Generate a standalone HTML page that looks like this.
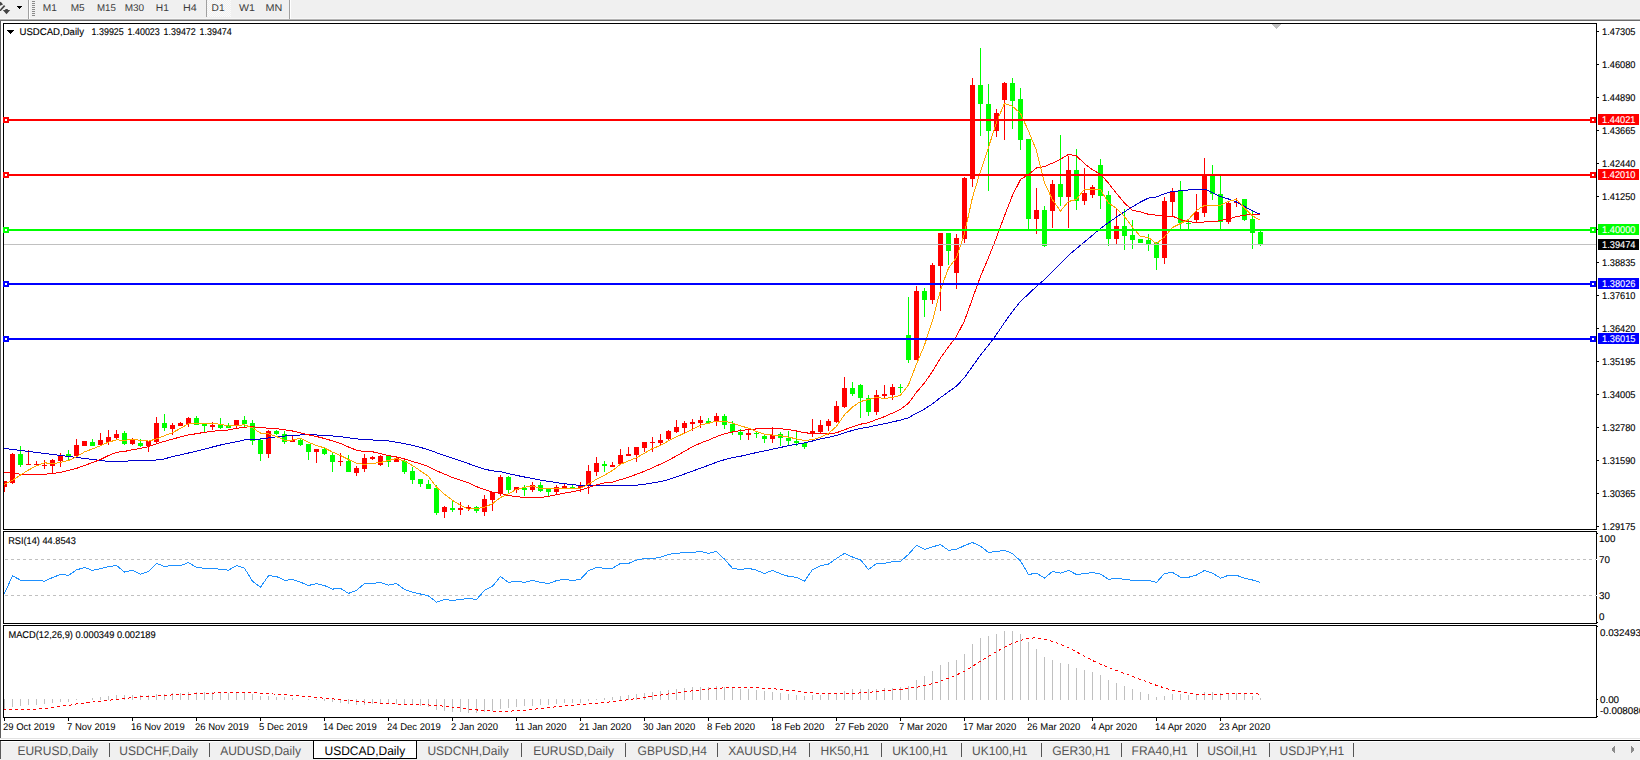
<!DOCTYPE html>
<html><head><meta charset="utf-8"><title>USDCAD,Daily</title>
<style>html,body{margin:0;padding:0;background:#fff;overflow:hidden}svg{display:block}text{white-space:pre}</style>
</head><body>
<svg width="1640" height="760" viewBox="0 0 1640 760" shape-rendering="crispEdges" text-rendering="geometricPrecision" font-family="'Liberation Sans', Arial, sans-serif"><rect x="0" y="0" width="1640" height="760" fill="#ffffff"/>
<rect x="0" y="0" width="1640" height="19" fill="#f0f0f0"/>
<rect x="0" y="18" width="1640" height="1" fill="#f7f7f7"/>
<rect x="0" y="19" width="1640" height="1" fill="#b4b4b4"/>
<rect x="0" y="20" width="1640" height="1" fill="#6a6a6a"/>
<g fill="#444444" shape-rendering="auto">
<path d="M0 1.8 L1.2 2.2 L3 4.5 L0 5.8 Z"/>
<path d="M4 5 L5.3 6.2 L0.8 11 L0 11 L0 9.6 Z"/>
<path d="M5.3 9 L7.8 9 L7.8 10 L10.2 10 L6.5 14.2 L2.8 10 L5.3 10 Z"/>
</g>
<path d="M17 6 L22 6 L19.5 9 Z" fill="#000"/>
<rect x="28" y="0" width="1" height="19" fill="#a0a0a0"/>
<rect x="29" y="0" width="1" height="19" fill="#ffffff"/>
<rect x="32" y="1" width="3" height="1" fill="#8a8a8a"/>
<rect x="32" y="3" width="3" height="1" fill="#8a8a8a"/>
<rect x="32" y="5" width="3" height="1" fill="#8a8a8a"/>
<rect x="32" y="7" width="3" height="1" fill="#8a8a8a"/>
<rect x="32" y="9" width="3" height="1" fill="#8a8a8a"/>
<rect x="32" y="11" width="3" height="1" fill="#8a8a8a"/>
<rect x="32" y="13" width="3" height="1" fill="#8a8a8a"/>
<rect x="32" y="15" width="3" height="1" fill="#8a8a8a"/>
<defs><pattern id="chk" width="2" height="2" patternUnits="userSpaceOnUse"><rect width="2" height="2" fill="#f0f0f0"/><rect width="1" height="1" fill="#fbfbfb"/><rect x="1" y="1" width="1" height="1" fill="#fbfbfb"/></pattern></defs>
<rect x="207" y="0" width="24" height="17" fill="url(#chk)"/>
<rect x="206" y="0" width="1" height="17" fill="#a0a0a0"/>
<rect x="289" y="0" width="1" height="19" fill="#a0a0a0"/>
<rect x="290" y="0" width="1" height="19" fill="#ffffff"/>
<text x="42.8" y="11" font-size="9.8" fill="#3c3c3c" textLength="14.1" lengthAdjust="spacingAndGlyphs">M1</text>
<text x="70.7" y="11" font-size="9.8" fill="#3c3c3c" textLength="14.0" lengthAdjust="spacingAndGlyphs">M5</text>
<text x="96.9" y="11" font-size="9.8" fill="#3c3c3c" textLength="18.9" lengthAdjust="spacingAndGlyphs">M15</text>
<text x="124.7" y="11" font-size="9.8" fill="#3c3c3c" textLength="19.5" lengthAdjust="spacingAndGlyphs">M30</text>
<text x="155.8" y="11" font-size="9.8" fill="#3c3c3c" textLength="13.1" lengthAdjust="spacingAndGlyphs">H1</text>
<text x="182.9" y="11" font-size="9.8" fill="#3c3c3c" textLength="13.799999999999999" lengthAdjust="spacingAndGlyphs">H4</text>
<text x="211.6" y="11" font-size="9.8" fill="#3c3c3c" textLength="13.0" lengthAdjust="spacingAndGlyphs">D1</text>
<text x="239.0" y="11" font-size="9.8" fill="#3c3c3c" textLength="15.899999999999999" lengthAdjust="spacingAndGlyphs">W1</text>
<text x="265.5" y="11" font-size="9.8" fill="#3c3c3c" textLength="16.8" lengthAdjust="spacingAndGlyphs">MN</text>
<rect x="0" y="21" width="1" height="717" fill="#5d5d5d"/>
<rect x="3" y="23" width="1594" height="1" fill="#000"/>
<rect x="3" y="529" width="1594" height="1" fill="#000"/>
<rect x="3" y="23" width="1" height="507" fill="#000"/>
<rect x="1596" y="23" width="1" height="507" fill="#000"/>
<rect x="3" y="531" width="1594" height="1" fill="#000"/>
<rect x="3" y="623" width="1594" height="1" fill="#000"/>
<rect x="3" y="531" width="1" height="93" fill="#000"/>
<rect x="1596" y="531" width="1" height="93" fill="#000"/>
<rect x="3" y="625" width="1594" height="1" fill="#000"/>
<rect x="3" y="717" width="1594" height="1" fill="#000"/>
<rect x="3" y="625" width="1" height="93" fill="#000"/>
<rect x="1596" y="625" width="1" height="93" fill="#000"/>
<clipPath id="cm"><rect x="4" y="24" width="1592" height="505"/></clipPath>
<clipPath id="cr"><rect x="4" y="532" width="1592" height="91"/></clipPath>
<clipPath id="cmacd"><rect x="4" y="626" width="1592" height="91"/></clipPath>
<g clip-path="url(#cm)">
<rect x="4" y="481" width="1" height="11" fill="#ff0000"/>
<rect x="2" y="481" width="5" height="6" fill="#ff0000"/>
<rect x="12" y="453" width="1" height="31" fill="#ff0000"/>
<rect x="10" y="454" width="5" height="29" fill="#ff0000"/>
<rect x="20" y="446" width="1" height="21" fill="#00ff00"/>
<rect x="18" y="454" width="5" height="11" fill="#00ff00"/>
<rect x="28" y="450" width="1" height="15" fill="#ff0000"/>
<rect x="26" y="464" width="5" height="1" fill="#ff0000"/>
<rect x="36" y="461" width="1" height="5" fill="#ff0000"/>
<rect x="34" y="464" width="5" height="1" fill="#ff0000"/>
<rect x="44" y="460" width="1" height="9" fill="#ff0000"/>
<rect x="42" y="465" width="5" height="1" fill="#ff0000"/>
<rect x="52" y="459" width="1" height="15" fill="#ff0000"/>
<rect x="50" y="460" width="5" height="6" fill="#ff0000"/>
<rect x="60" y="453" width="1" height="14" fill="#ff0000"/>
<rect x="58" y="456" width="5" height="5" fill="#ff0000"/>
<rect x="68" y="450" width="1" height="10" fill="#00ff00"/>
<rect x="66" y="454" width="5" height="2" fill="#00ff00"/>
<rect x="76" y="439" width="1" height="17" fill="#ff0000"/>
<rect x="74" y="445" width="5" height="11" fill="#ff0000"/>
<rect x="84" y="441" width="1" height="5" fill="#ff0000"/>
<rect x="82" y="441" width="5" height="5" fill="#ff0000"/>
<rect x="92" y="439" width="1" height="7" fill="#00ff00"/>
<rect x="90" y="442" width="5" height="4" fill="#00ff00"/>
<rect x="100" y="433" width="1" height="13" fill="#ff0000"/>
<rect x="98" y="440" width="5" height="5" fill="#ff0000"/>
<rect x="108" y="430" width="1" height="15" fill="#ff0000"/>
<rect x="106" y="437" width="5" height="5" fill="#ff0000"/>
<rect x="116" y="430" width="1" height="9" fill="#ff0000"/>
<rect x="114" y="434" width="5" height="4" fill="#ff0000"/>
<rect x="124" y="431" width="1" height="14" fill="#00ff00"/>
<rect x="122" y="433" width="5" height="11" fill="#00ff00"/>
<rect x="132" y="438" width="1" height="7" fill="#ff0000"/>
<rect x="130" y="440" width="5" height="4" fill="#ff0000"/>
<rect x="140" y="439" width="1" height="8" fill="#00ff00"/>
<rect x="138" y="443" width="5" height="3" fill="#00ff00"/>
<rect x="148" y="441" width="1" height="11" fill="#ff0000"/>
<rect x="146" y="441" width="5" height="5" fill="#ff0000"/>
<rect x="156" y="417" width="1" height="26" fill="#ff0000"/>
<rect x="154" y="423" width="5" height="19" fill="#ff0000"/>
<rect x="164" y="414" width="1" height="17" fill="#00ff00"/>
<rect x="162" y="423" width="5" height="5" fill="#00ff00"/>
<rect x="172" y="423" width="1" height="12" fill="#ff0000"/>
<rect x="170" y="425" width="5" height="4" fill="#ff0000"/>
<rect x="180" y="422" width="1" height="4" fill="#ff0000"/>
<rect x="178" y="423" width="5" height="3" fill="#ff0000"/>
<rect x="188" y="417" width="1" height="10" fill="#ff0000"/>
<rect x="186" y="418" width="5" height="6" fill="#ff0000"/>
<rect x="196" y="416" width="1" height="9" fill="#00ff00"/>
<rect x="194" y="418" width="5" height="7" fill="#00ff00"/>
<rect x="204" y="423" width="1" height="9" fill="#00ff00"/>
<rect x="202" y="424" width="5" height="2" fill="#00ff00"/>
<rect x="212" y="422" width="1" height="8" fill="#ff0000"/>
<rect x="210" y="425" width="5" height="2" fill="#ff0000"/>
<rect x="220" y="418" width="1" height="11" fill="#00ff00"/>
<rect x="218" y="424" width="5" height="4" fill="#00ff00"/>
<rect x="228" y="423" width="1" height="5" fill="#00ff00"/>
<rect x="226" y="426" width="5" height="2" fill="#00ff00"/>
<rect x="236" y="420" width="1" height="8" fill="#ff0000"/>
<rect x="234" y="420" width="5" height="6" fill="#ff0000"/>
<rect x="244" y="416" width="1" height="11" fill="#00ff00"/>
<rect x="242" y="420" width="5" height="4" fill="#00ff00"/>
<rect x="252" y="420" width="1" height="25" fill="#00ff00"/>
<rect x="250" y="423" width="5" height="18" fill="#00ff00"/>
<rect x="260" y="439" width="1" height="22" fill="#00ff00"/>
<rect x="258" y="440" width="5" height="14" fill="#00ff00"/>
<rect x="268" y="430" width="1" height="28" fill="#ff0000"/>
<rect x="266" y="431" width="5" height="23" fill="#ff0000"/>
<rect x="276" y="430" width="1" height="5" fill="#00ff00"/>
<rect x="274" y="431" width="5" height="3" fill="#00ff00"/>
<rect x="284" y="431" width="1" height="13" fill="#00ff00"/>
<rect x="282" y="434" width="5" height="8" fill="#00ff00"/>
<rect x="292" y="436" width="1" height="6" fill="#ff0000"/>
<rect x="290" y="440" width="5" height="2" fill="#ff0000"/>
<rect x="300" y="438" width="1" height="8" fill="#00ff00"/>
<rect x="298" y="440" width="5" height="5" fill="#00ff00"/>
<rect x="308" y="444" width="1" height="16" fill="#00ff00"/>
<rect x="306" y="444" width="5" height="8" fill="#00ff00"/>
<rect x="316" y="449" width="1" height="14" fill="#ff0000"/>
<rect x="314" y="449" width="5" height="3" fill="#ff0000"/>
<rect x="324" y="448" width="1" height="7" fill="#00ff00"/>
<rect x="322" y="449" width="5" height="5" fill="#00ff00"/>
<rect x="332" y="453" width="1" height="19" fill="#00ff00"/>
<rect x="330" y="455" width="5" height="7" fill="#00ff00"/>
<rect x="340" y="453" width="1" height="13" fill="#ff0000"/>
<rect x="338" y="461" width="5" height="1" fill="#ff0000"/>
<rect x="348" y="455" width="1" height="17" fill="#00ff00"/>
<rect x="346" y="461" width="5" height="11" fill="#00ff00"/>
<rect x="356" y="466" width="1" height="10" fill="#ff0000"/>
<rect x="354" y="468" width="5" height="5" fill="#ff0000"/>
<rect x="364" y="454" width="1" height="18" fill="#ff0000"/>
<rect x="362" y="458" width="5" height="11" fill="#ff0000"/>
<rect x="372" y="456" width="1" height="4" fill="#ff0000"/>
<rect x="370" y="457" width="5" height="2" fill="#ff0000"/>
<rect x="380" y="455" width="1" height="11" fill="#ff0000"/>
<rect x="378" y="456" width="5" height="9" fill="#ff0000"/>
<rect x="388" y="455" width="1" height="12" fill="#00ff00"/>
<rect x="386" y="456" width="5" height="6" fill="#00ff00"/>
<rect x="396" y="457" width="1" height="5" fill="#ff0000"/>
<rect x="394" y="458" width="5" height="4" fill="#ff0000"/>
<rect x="404" y="460" width="1" height="14" fill="#00ff00"/>
<rect x="402" y="461" width="5" height="11" fill="#00ff00"/>
<rect x="412" y="467" width="1" height="17" fill="#00ff00"/>
<rect x="410" y="471" width="5" height="9" fill="#00ff00"/>
<rect x="420" y="479" width="1" height="8" fill="#00ff00"/>
<rect x="418" y="479" width="5" height="5" fill="#00ff00"/>
<rect x="428" y="480" width="1" height="9" fill="#00ff00"/>
<rect x="426" y="484" width="5" height="5" fill="#00ff00"/>
<rect x="436" y="485" width="1" height="30" fill="#00ff00"/>
<rect x="434" y="488" width="5" height="25" fill="#00ff00"/>
<rect x="444" y="506" width="1" height="12" fill="#ff0000"/>
<rect x="442" y="507" width="5" height="5" fill="#ff0000"/>
<rect x="452" y="501" width="1" height="11" fill="#00ff00"/>
<rect x="450" y="508" width="5" height="2" fill="#00ff00"/>
<rect x="460" y="502" width="1" height="13" fill="#ff0000"/>
<rect x="458" y="508" width="5" height="2" fill="#ff0000"/>
<rect x="468" y="505" width="1" height="6" fill="#ff0000"/>
<rect x="466" y="507" width="5" height="2" fill="#ff0000"/>
<rect x="476" y="506" width="1" height="7" fill="#00ff00"/>
<rect x="474" y="507" width="5" height="4" fill="#00ff00"/>
<rect x="484" y="495" width="1" height="21" fill="#ff0000"/>
<rect x="482" y="499" width="5" height="13" fill="#ff0000"/>
<rect x="492" y="492" width="1" height="19" fill="#ff0000"/>
<rect x="490" y="492" width="5" height="8" fill="#ff0000"/>
<rect x="500" y="475" width="1" height="21" fill="#ff0000"/>
<rect x="498" y="477" width="5" height="17" fill="#ff0000"/>
<rect x="508" y="476" width="1" height="18" fill="#00ff00"/>
<rect x="506" y="477" width="5" height="13" fill="#00ff00"/>
<rect x="516" y="487" width="1" height="6" fill="#ff0000"/>
<rect x="514" y="487" width="5" height="3" fill="#ff0000"/>
<rect x="524" y="485" width="1" height="11" fill="#00ff00"/>
<rect x="522" y="488" width="5" height="2" fill="#00ff00"/>
<rect x="532" y="482" width="1" height="10" fill="#ff0000"/>
<rect x="530" y="485" width="5" height="5" fill="#ff0000"/>
<rect x="540" y="482" width="1" height="10" fill="#00ff00"/>
<rect x="538" y="485" width="5" height="6" fill="#00ff00"/>
<rect x="548" y="488" width="1" height="8" fill="#00ff00"/>
<rect x="546" y="489" width="5" height="3" fill="#00ff00"/>
<rect x="556" y="485" width="1" height="10" fill="#ff0000"/>
<rect x="554" y="487" width="5" height="5" fill="#ff0000"/>
<rect x="564" y="484" width="1" height="4" fill="#ff0000"/>
<rect x="562" y="486" width="5" height="2" fill="#ff0000"/>
<rect x="572" y="485" width="1" height="4" fill="#00ff00"/>
<rect x="570" y="487" width="5" height="2" fill="#00ff00"/>
<rect x="580" y="482" width="1" height="10" fill="#ff0000"/>
<rect x="578" y="486" width="5" height="2" fill="#ff0000"/>
<rect x="588" y="465" width="1" height="29" fill="#ff0000"/>
<rect x="586" y="471" width="5" height="15" fill="#ff0000"/>
<rect x="596" y="457" width="1" height="19" fill="#ff0000"/>
<rect x="594" y="463" width="5" height="9" fill="#ff0000"/>
<rect x="604" y="461" width="1" height="11" fill="#00ff00"/>
<rect x="602" y="464" width="5" height="2" fill="#00ff00"/>
<rect x="612" y="462" width="1" height="5" fill="#ff0000"/>
<rect x="610" y="465" width="5" height="2" fill="#ff0000"/>
<rect x="620" y="449" width="1" height="15" fill="#ff0000"/>
<rect x="618" y="455" width="5" height="9" fill="#ff0000"/>
<rect x="628" y="447" width="1" height="9" fill="#ff0000"/>
<rect x="626" y="454" width="5" height="2" fill="#ff0000"/>
<rect x="636" y="447" width="1" height="15" fill="#ff0000"/>
<rect x="634" y="447" width="5" height="8" fill="#ff0000"/>
<rect x="644" y="442" width="1" height="10" fill="#ff0000"/>
<rect x="642" y="442" width="5" height="6" fill="#ff0000"/>
<rect x="652" y="437" width="1" height="15" fill="#ff0000"/>
<rect x="650" y="442" width="5" height="1" fill="#ff0000"/>
<rect x="660" y="434" width="1" height="11" fill="#ff0000"/>
<rect x="658" y="440" width="5" height="3" fill="#ff0000"/>
<rect x="668" y="430" width="1" height="10" fill="#ff0000"/>
<rect x="666" y="431" width="5" height="8" fill="#ff0000"/>
<rect x="676" y="420" width="1" height="13" fill="#ff0000"/>
<rect x="674" y="427" width="5" height="5" fill="#ff0000"/>
<rect x="684" y="421" width="1" height="12" fill="#ff0000"/>
<rect x="682" y="423" width="5" height="5" fill="#ff0000"/>
<rect x="692" y="419" width="1" height="12" fill="#ff0000"/>
<rect x="690" y="422" width="5" height="2" fill="#ff0000"/>
<rect x="700" y="416" width="1" height="12" fill="#ff0000"/>
<rect x="698" y="420" width="5" height="3" fill="#ff0000"/>
<rect x="708" y="418" width="1" height="5" fill="#00ff00"/>
<rect x="706" y="421" width="5" height="2" fill="#00ff00"/>
<rect x="716" y="413" width="1" height="13" fill="#ff0000"/>
<rect x="714" y="416" width="5" height="5" fill="#ff0000"/>
<rect x="724" y="414" width="1" height="15" fill="#00ff00"/>
<rect x="722" y="416" width="5" height="9" fill="#00ff00"/>
<rect x="732" y="421" width="1" height="14" fill="#00ff00"/>
<rect x="730" y="424" width="5" height="8" fill="#00ff00"/>
<rect x="740" y="429" width="1" height="11" fill="#00ff00"/>
<rect x="738" y="432" width="5" height="3" fill="#00ff00"/>
<rect x="748" y="429" width="1" height="11" fill="#ff0000"/>
<rect x="746" y="433" width="5" height="2" fill="#ff0000"/>
<rect x="756" y="432" width="1" height="6" fill="#00ff00"/>
<rect x="754" y="433" width="5" height="1" fill="#00ff00"/>
<rect x="764" y="435" width="1" height="8" fill="#00ff00"/>
<rect x="762" y="436" width="5" height="3" fill="#00ff00"/>
<rect x="772" y="427" width="1" height="16" fill="#ff0000"/>
<rect x="770" y="435" width="5" height="4" fill="#ff0000"/>
<rect x="780" y="432" width="1" height="14" fill="#00ff00"/>
<rect x="778" y="434" width="5" height="4" fill="#00ff00"/>
<rect x="788" y="431" width="1" height="14" fill="#00ff00"/>
<rect x="786" y="438" width="5" height="3" fill="#00ff00"/>
<rect x="796" y="430" width="1" height="16" fill="#00ff00"/>
<rect x="794" y="441" width="5" height="2" fill="#00ff00"/>
<rect x="804" y="442" width="1" height="7" fill="#00ff00"/>
<rect x="802" y="443" width="5" height="4" fill="#00ff00"/>
<rect x="812" y="419" width="1" height="18" fill="#ff0000"/>
<rect x="810" y="431" width="5" height="3" fill="#ff0000"/>
<rect x="820" y="420" width="1" height="14" fill="#ff0000"/>
<rect x="818" y="425" width="5" height="7" fill="#ff0000"/>
<rect x="828" y="419" width="1" height="12" fill="#ff0000"/>
<rect x="826" y="421" width="5" height="5" fill="#ff0000"/>
<rect x="836" y="401" width="1" height="22" fill="#ff0000"/>
<rect x="834" y="406" width="5" height="16" fill="#ff0000"/>
<rect x="844" y="377" width="1" height="31" fill="#ff0000"/>
<rect x="842" y="388" width="5" height="19" fill="#ff0000"/>
<rect x="852" y="382" width="1" height="14" fill="#00ff00"/>
<rect x="850" y="388" width="5" height="6" fill="#00ff00"/>
<rect x="860" y="384" width="1" height="34" fill="#00ff00"/>
<rect x="858" y="385" width="5" height="13" fill="#00ff00"/>
<rect x="868" y="395" width="1" height="21" fill="#00ff00"/>
<rect x="866" y="398" width="5" height="14" fill="#00ff00"/>
<rect x="876" y="390" width="1" height="25" fill="#ff0000"/>
<rect x="874" y="395" width="5" height="17" fill="#ff0000"/>
<rect x="884" y="385" width="1" height="13" fill="#ff0000"/>
<rect x="882" y="394" width="5" height="2" fill="#ff0000"/>
<rect x="892" y="384" width="1" height="16" fill="#ff0000"/>
<rect x="890" y="387" width="5" height="8" fill="#ff0000"/>
<rect x="900" y="384" width="1" height="9" fill="#00ff00"/>
<rect x="898" y="387" width="5" height="1" fill="#00ff00"/>
<rect x="908" y="297" width="1" height="66" fill="#00ff00"/>
<rect x="906" y="335" width="5" height="25" fill="#00ff00"/>
<rect x="916" y="286" width="1" height="74" fill="#ff0000"/>
<rect x="914" y="291" width="5" height="69" fill="#ff0000"/>
<rect x="924" y="288" width="1" height="29" fill="#00ff00"/>
<rect x="922" y="291" width="5" height="9" fill="#00ff00"/>
<rect x="932" y="263" width="1" height="41" fill="#ff0000"/>
<rect x="930" y="265" width="5" height="35" fill="#ff0000"/>
<rect x="940" y="233" width="1" height="78" fill="#ff0000"/>
<rect x="938" y="233" width="5" height="33" fill="#ff0000"/>
<rect x="948" y="233" width="1" height="32" fill="#00ff00"/>
<rect x="946" y="233" width="5" height="18" fill="#00ff00"/>
<rect x="956" y="234" width="1" height="55" fill="#ff0000"/>
<rect x="954" y="238" width="5" height="35" fill="#ff0000"/>
<rect x="964" y="177" width="1" height="66" fill="#ff0000"/>
<rect x="962" y="178" width="5" height="61" fill="#ff0000"/>
<rect x="972" y="78" width="1" height="109" fill="#ff0000"/>
<rect x="970" y="85" width="5" height="94" fill="#ff0000"/>
<rect x="980" y="48" width="1" height="88" fill="#00ff00"/>
<rect x="978" y="85" width="5" height="19" fill="#00ff00"/>
<rect x="988" y="84" width="1" height="107" fill="#00ff00"/>
<rect x="986" y="104" width="5" height="27" fill="#00ff00"/>
<rect x="996" y="109" width="1" height="28" fill="#ff0000"/>
<rect x="994" y="113" width="5" height="18" fill="#ff0000"/>
<rect x="1004" y="82" width="1" height="58" fill="#ff0000"/>
<rect x="1002" y="83" width="5" height="17" fill="#ff0000"/>
<rect x="1012" y="78" width="1" height="51" fill="#00ff00"/>
<rect x="1010" y="83" width="5" height="18" fill="#00ff00"/>
<rect x="1020" y="88" width="1" height="62" fill="#00ff00"/>
<rect x="1018" y="99" width="5" height="41" fill="#00ff00"/>
<rect x="1028" y="139" width="1" height="91" fill="#00ff00"/>
<rect x="1026" y="139" width="5" height="80" fill="#00ff00"/>
<rect x="1036" y="188" width="1" height="46" fill="#ff0000"/>
<rect x="1034" y="210" width="5" height="9" fill="#ff0000"/>
<rect x="1044" y="206" width="1" height="41" fill="#00ff00"/>
<rect x="1042" y="210" width="5" height="36" fill="#00ff00"/>
<rect x="1052" y="180" width="1" height="48" fill="#ff0000"/>
<rect x="1050" y="184" width="5" height="27" fill="#ff0000"/>
<rect x="1060" y="135" width="1" height="71" fill="#00ff00"/>
<rect x="1058" y="184" width="5" height="13" fill="#00ff00"/>
<rect x="1068" y="156" width="1" height="72" fill="#ff0000"/>
<rect x="1066" y="170" width="5" height="27" fill="#ff0000"/>
<rect x="1076" y="149" width="1" height="61" fill="#00ff00"/>
<rect x="1074" y="170" width="5" height="31" fill="#00ff00"/>
<rect x="1084" y="168" width="1" height="37" fill="#ff0000"/>
<rect x="1082" y="193" width="5" height="8" fill="#ff0000"/>
<rect x="1092" y="185" width="1" height="13" fill="#ff0000"/>
<rect x="1090" y="187" width="5" height="8" fill="#ff0000"/>
<rect x="1100" y="159" width="1" height="50" fill="#00ff00"/>
<rect x="1098" y="165" width="5" height="31" fill="#00ff00"/>
<rect x="1108" y="191" width="1" height="55" fill="#00ff00"/>
<rect x="1106" y="195" width="5" height="44" fill="#00ff00"/>
<rect x="1116" y="208" width="1" height="37" fill="#ff0000"/>
<rect x="1114" y="226" width="5" height="13" fill="#ff0000"/>
<rect x="1124" y="209" width="1" height="41" fill="#00ff00"/>
<rect x="1122" y="226" width="5" height="10" fill="#00ff00"/>
<rect x="1132" y="220" width="1" height="29" fill="#00ff00"/>
<rect x="1130" y="235" width="5" height="5" fill="#00ff00"/>
<rect x="1140" y="239" width="1" height="4" fill="#00ff00"/>
<rect x="1138" y="239" width="5" height="4" fill="#00ff00"/>
<rect x="1148" y="234" width="1" height="17" fill="#00ff00"/>
<rect x="1146" y="240" width="5" height="4" fill="#00ff00"/>
<rect x="1156" y="242" width="1" height="28" fill="#00ff00"/>
<rect x="1154" y="243" width="5" height="15" fill="#00ff00"/>
<rect x="1164" y="197" width="1" height="67" fill="#ff0000"/>
<rect x="1162" y="201" width="5" height="57" fill="#ff0000"/>
<rect x="1172" y="188" width="1" height="28" fill="#ff0000"/>
<rect x="1170" y="192" width="5" height="10" fill="#ff0000"/>
<rect x="1180" y="181" width="1" height="48" fill="#00ff00"/>
<rect x="1178" y="191" width="5" height="32" fill="#00ff00"/>
<rect x="1188" y="220" width="1" height="9" fill="#00ff00"/>
<rect x="1186" y="223" width="5" height="1" fill="#00ff00"/>
<rect x="1196" y="194" width="1" height="28" fill="#ff0000"/>
<rect x="1194" y="212" width="5" height="8" fill="#ff0000"/>
<rect x="1204" y="158" width="1" height="59" fill="#ff0000"/>
<rect x="1202" y="175" width="5" height="38" fill="#ff0000"/>
<rect x="1212" y="165" width="1" height="35" fill="#00ff00"/>
<rect x="1210" y="176" width="5" height="18" fill="#00ff00"/>
<rect x="1220" y="176" width="1" height="53" fill="#00ff00"/>
<rect x="1218" y="194" width="5" height="28" fill="#00ff00"/>
<rect x="1228" y="201" width="1" height="23" fill="#ff0000"/>
<rect x="1226" y="203" width="5" height="19" fill="#ff0000"/>
<rect x="1236" y="198" width="1" height="9" fill="#ff0000"/>
<rect x="1234" y="202" width="5" height="1" fill="#ff0000"/>
<rect x="1244" y="199" width="1" height="22" fill="#00ff00"/>
<rect x="1242" y="199" width="5" height="21" fill="#00ff00"/>
<rect x="1252" y="210" width="1" height="39" fill="#00ff00"/>
<rect x="1250" y="219" width="5" height="14" fill="#00ff00"/>
<rect x="1260" y="231" width="1" height="15" fill="#00ff00"/>
<rect x="1258" y="232" width="5" height="13" fill="#00ff00"/>
<polyline points="3.0,448.30 4.5,448.30 12.5,449.50 20.5,450.40 28.5,451.40 36.5,452.40 44.5,453.40 52.5,454.40 60.5,455.40 68.5,456.40 76.5,457.40 84.5,458.40 92.5,459.50 100.5,460.40 108.5,461.50 116.5,461.50 124.5,461.50 132.5,460.40 140.5,460.40 148.5,460.40 156.5,460.00 164.5,458.90 172.5,456.50 180.5,454.90 188.5,453.00 196.5,451.20 204.5,449.20 212.5,447.00 220.5,445.00 228.5,443.20 236.5,441.77 244.5,439.83 252.5,439.37 260.5,439.00 268.5,437.90 276.5,436.87 284.5,436.07 292.5,435.40 300.5,435.00 308.5,434.87 316.5,435.00 324.5,435.40 332.5,435.93 340.5,436.63 348.5,437.77 356.5,438.90 364.5,439.40 372.5,439.97 380.5,440.33 388.5,441.00 396.5,442.17 404.5,443.63 412.5,445.43 420.5,447.43 428.5,449.77 436.5,452.70 444.5,455.43 452.5,458.23 460.5,460.93 468.5,463.60 476.5,466.60 484.5,469.13 492.5,470.87 500.5,471.67 508.5,473.60 516.5,475.40 524.5,477.00 532.5,478.50 540.5,480.03 548.5,481.37 556.5,482.63 564.5,483.73 572.5,484.63 580.5,485.47 588.5,485.47 596.5,485.30 604.5,485.53 612.5,485.80 620.5,485.77 628.5,485.53 636.5,485.17 644.5,484.20 652.5,482.97 660.5,481.53 668.5,479.63 676.5,476.80 684.5,474.00 692.5,471.10 700.5,468.17 708.5,465.33 716.5,462.20 724.5,459.70 732.5,457.67 740.5,456.23 748.5,454.37 756.5,452.57 764.5,450.87 772.5,449.20 780.5,447.43 788.5,445.73 796.5,444.23 804.5,442.90 812.5,441.00 820.5,438.97 828.5,437.30 836.5,435.40 844.5,432.83 852.5,430.43 860.5,428.50 868.5,427.07 876.5,425.33 884.5,423.73 892.5,421.90 900.5,420.13 908.5,417.73 916.5,413.20 924.5,409.07 932.5,403.83 940.5,397.60 948.5,391.87 956.5,385.93 964.5,377.73 972.5,366.20 980.5,355.17 988.5,345.07 996.5,334.40 1004.5,322.57 1012.5,311.40 1020.5,301.47 1028.5,294.07 1036.5,286.33 1044.5,279.63 1052.5,271.40 1060.5,263.77 1068.5,255.40 1076.5,248.53 1084.5,242.03 1092.5,235.17 1100.5,228.43 1108.5,222.67 1116.5,217.03 1124.5,211.73 1132.5,206.80 1140.5,201.97 1148.5,198.10 1156.5,196.97 1164.5,193.70 1172.5,191.27 1180.5,190.90 1188.5,190.00 1196.5,189.13 1204.5,189.03 1212.5,192.63 1220.5,196.57 1228.5,199.00 1236.5,201.97 1244.5,206.50 1252.5,210.90 1260.5,214.40" fill="none" stroke="#0000cd" stroke-width="1"/>
<polyline points="3.0,472.40 4.5,472.40 12.5,472.40 20.5,474.30 28.5,474.30 36.5,474.30 44.5,474.30 52.5,473.50 60.5,472.40 68.5,470.40 76.5,468.40 84.5,465.50 92.5,462.50 100.5,459.50 108.5,455.57 116.5,452.21 124.5,451.43 132.5,449.71 140.5,448.36 148.5,446.71 156.5,443.71 164.5,441.36 172.5,439.14 180.5,436.86 188.5,434.93 196.5,433.71 204.5,432.29 212.5,431.21 220.5,430.50 228.5,430.00 236.5,428.36 244.5,427.14 252.5,426.79 260.5,427.64 268.5,428.21 276.5,428.64 284.5,429.79 292.5,431.00 300.5,432.86 308.5,434.79 316.5,436.50 324.5,438.50 332.5,440.93 340.5,443.36 348.5,447.00 356.5,450.21 364.5,451.50 372.5,451.79 380.5,453.57 388.5,455.57 396.5,456.79 404.5,459.00 412.5,461.50 420.5,463.79 428.5,466.57 436.5,470.79 444.5,474.07 452.5,477.50 460.5,480.14 468.5,482.93 476.5,486.64 484.5,489.64 492.5,492.21 500.5,493.36 508.5,495.57 516.5,496.71 524.5,497.43 532.5,497.57 540.5,497.71 548.5,496.21 556.5,494.79 564.5,493.14 572.5,491.71 580.5,490.21 588.5,487.43 596.5,484.86 604.5,482.93 612.5,482.07 620.5,479.64 628.5,477.29 636.5,474.29 644.5,471.21 652.5,467.79 660.5,464.14 668.5,460.14 676.5,455.93 684.5,451.29 692.5,446.71 700.5,443.07 708.5,440.14 716.5,436.64 724.5,433.71 732.5,432.00 740.5,430.57 748.5,429.57 756.5,428.93 764.5,428.64 772.5,428.29 780.5,428.71 788.5,429.64 796.5,431.00 804.5,432.71 812.5,433.50 820.5,433.71 828.5,434.07 836.5,432.79 844.5,429.71 852.5,426.79 860.5,424.21 868.5,422.64 876.5,419.57 884.5,416.64 892.5,413.07 900.5,409.29 908.5,403.36 916.5,392.29 924.5,382.86 932.5,371.43 940.5,358.00 948.5,346.86 956.5,336.14 964.5,320.79 972.5,298.50 980.5,276.50 988.5,257.57 996.5,237.50 1004.5,215.79 1012.5,195.29 1020.5,179.57 1028.5,174.36 1036.5,168.00 1044.5,166.57 1052.5,163.07 1060.5,159.21 1068.5,154.36 1076.5,155.93 1084.5,163.64 1092.5,169.64 1100.5,174.29 1108.5,183.21 1116.5,193.43 1124.5,203.07 1132.5,210.21 1140.5,211.93 1148.5,214.29 1156.5,215.14 1164.5,216.36 1172.5,216.07 1180.5,219.79 1188.5,221.43 1196.5,222.79 1204.5,221.93 1212.5,221.79 1220.5,220.57 1228.5,218.93 1236.5,216.57 1244.5,215.14 1252.5,214.43 1260.5,214.50" fill="none" stroke="#ff0000" stroke-width="1"/>
<polyline points="3.0,484.20 4.5,484.20 12.5,480.30 20.5,475.10 28.5,470.00 36.5,465.90 44.5,462.70 52.5,463.90 60.5,462.30 68.5,460.50 76.5,456.70 84.5,451.90 92.5,448.90 100.5,445.70 108.5,442.10 116.5,439.90 124.5,440.30 132.5,439.30 140.5,440.30 148.5,441.10 156.5,438.90 164.5,435.70 172.5,432.70 180.5,428.30 188.5,423.70 196.5,423.90 204.5,423.50 212.5,423.50 220.5,424.30 228.5,426.10 236.5,425.30 244.5,424.90 252.5,427.90 260.5,433.10 268.5,433.90 276.5,436.50 284.5,440.10 292.5,440.10 300.5,438.30 308.5,442.30 316.5,445.50 324.5,447.90 332.5,452.10 340.5,455.50 348.5,459.50 356.5,463.30 364.5,464.30 372.5,463.50 380.5,462.50 388.5,460.50 396.5,458.50 404.5,461.10 412.5,465.50 420.5,470.90 428.5,476.30 436.5,487.10 444.5,494.30 452.5,500.30 460.5,505.30 468.5,509.10 476.5,508.70 484.5,507.10 492.5,503.70 500.5,497.50 508.5,493.90 516.5,489.30 524.5,487.30 532.5,485.90 540.5,488.50 548.5,488.90 556.5,488.90 564.5,488.30 572.5,488.90 580.5,488.10 588.5,484.10 596.5,479.30 604.5,475.10 612.5,470.50 620.5,464.30 628.5,460.90 636.5,457.70 644.5,453.10 652.5,448.50 660.5,445.50 668.5,440.90 676.5,436.90 684.5,433.10 692.5,429.10 700.5,425.10 708.5,423.30 716.5,421.10 724.5,421.30 732.5,423.10 740.5,425.90 748.5,428.10 756.5,431.50 764.5,434.30 772.5,435.10 780.5,435.70 788.5,437.10 796.5,438.90 804.5,440.50 812.5,439.70 820.5,437.30 828.5,433.50 836.5,426.30 844.5,414.70 852.5,407.10 860.5,401.50 868.5,399.50 876.5,397.30 884.5,398.50 892.5,397.30 900.5,395.30 908.5,384.90 916.5,364.10 924.5,345.10 932.5,320.70 940.5,289.90 948.5,268.10 956.5,257.50 964.5,233.30 972.5,197.30 980.5,171.30 988.5,147.30 996.5,122.30 1004.5,103.30 1012.5,106.30 1020.5,113.50 1028.5,131.10 1036.5,150.50 1044.5,182.90 1052.5,199.70 1060.5,211.10 1068.5,201.50 1076.5,199.50 1084.5,189.10 1092.5,189.70 1100.5,189.50 1108.5,203.10 1116.5,208.30 1124.5,216.70 1132.5,227.10 1140.5,236.50 1148.5,237.50 1156.5,243.70 1164.5,236.90 1172.5,227.50 1180.5,223.50 1188.5,219.50 1196.5,210.50 1204.5,205.30 1212.5,205.50 1220.5,205.30 1228.5,201.30 1236.5,199.30 1244.5,208.10 1252.5,215.90 1260.5,220.50" fill="none" stroke="#ffa500" stroke-width="1"/>
</g>
<rect x="4" y="244" width="1592" height="1" fill="#c0c0c0"/>
<rect x="4" y="119" width="1592" height="2" fill="#ff0000"/>
<rect x="3" y="117" width="6" height="6" fill="#ff0000"/>
<rect x="5" y="119" width="2" height="2" fill="#ffffff"/>
<rect x="1590" y="117" width="6" height="6" fill="#ff0000"/>
<rect x="1592" y="119" width="2" height="2" fill="#ffffff"/>
<rect x="4" y="174" width="1592" height="2" fill="#ff0000"/>
<rect x="3" y="172" width="6" height="6" fill="#ff0000"/>
<rect x="5" y="174" width="2" height="2" fill="#ffffff"/>
<rect x="1590" y="172" width="6" height="6" fill="#ff0000"/>
<rect x="1592" y="174" width="2" height="2" fill="#ffffff"/>
<rect x="4" y="229" width="1592" height="2" fill="#00ff00"/>
<rect x="3" y="227" width="6" height="6" fill="#00ff00"/>
<rect x="5" y="229" width="2" height="2" fill="#ffffff"/>
<rect x="1590" y="227" width="6" height="6" fill="#00ff00"/>
<rect x="1592" y="229" width="2" height="2" fill="#ffffff"/>
<rect x="4" y="283" width="1592" height="2" fill="#0000ff"/>
<rect x="3" y="281" width="6" height="6" fill="#0000ff"/>
<rect x="5" y="283" width="2" height="2" fill="#ffffff"/>
<rect x="1590" y="281" width="6" height="6" fill="#0000ff"/>
<rect x="1592" y="283" width="2" height="2" fill="#ffffff"/>
<rect x="4" y="338" width="1592" height="2" fill="#0000ff"/>
<rect x="3" y="336" width="6" height="6" fill="#0000ff"/>
<rect x="5" y="338" width="2" height="2" fill="#ffffff"/>
<rect x="1590" y="336" width="6" height="6" fill="#0000ff"/>
<rect x="1592" y="338" width="2" height="2" fill="#ffffff"/>
<rect x="1597" y="31" width="2" height="1" fill="#000"/>
<text x="1602" y="35" font-size="9.8" fill="#000" stroke="#000" stroke-width="0.12" textLength="33.5" lengthAdjust="spacingAndGlyphs">1.47305</text>
<rect x="1597" y="64" width="2" height="1" fill="#000"/>
<text x="1602" y="68" font-size="9.8" fill="#000" stroke="#000" stroke-width="0.12" textLength="33.5" lengthAdjust="spacingAndGlyphs">1.46080</text>
<rect x="1597" y="97" width="2" height="1" fill="#000"/>
<text x="1602" y="101" font-size="9.8" fill="#000" stroke="#000" stroke-width="0.12" textLength="33.5" lengthAdjust="spacingAndGlyphs">1.44890</text>
<rect x="1597" y="130" width="2" height="1" fill="#000"/>
<text x="1602" y="134" font-size="9.8" fill="#000" stroke="#000" stroke-width="0.12" textLength="33.5" lengthAdjust="spacingAndGlyphs">1.43665</text>
<rect x="1597" y="163" width="2" height="1" fill="#000"/>
<text x="1602" y="167" font-size="9.8" fill="#000" stroke="#000" stroke-width="0.12" textLength="33.5" lengthAdjust="spacingAndGlyphs">1.42440</text>
<rect x="1597" y="196" width="2" height="1" fill="#000"/>
<text x="1602" y="200" font-size="9.8" fill="#000" stroke="#000" stroke-width="0.12" textLength="33.5" lengthAdjust="spacingAndGlyphs">1.41250</text>
<rect x="1597" y="229" width="2" height="1" fill="#000"/>
<text x="1602" y="233" font-size="9.8" fill="#000" stroke="#000" stroke-width="0.12" textLength="33.5" lengthAdjust="spacingAndGlyphs">1.40025</text>
<rect x="1597" y="262" width="2" height="1" fill="#000"/>
<text x="1602" y="266" font-size="9.8" fill="#000" stroke="#000" stroke-width="0.12" textLength="33.5" lengthAdjust="spacingAndGlyphs">1.38835</text>
<rect x="1597" y="295" width="2" height="1" fill="#000"/>
<text x="1602" y="299" font-size="9.8" fill="#000" stroke="#000" stroke-width="0.12" textLength="33.5" lengthAdjust="spacingAndGlyphs">1.37610</text>
<rect x="1597" y="328" width="2" height="1" fill="#000"/>
<text x="1602" y="332" font-size="9.8" fill="#000" stroke="#000" stroke-width="0.12" textLength="33.5" lengthAdjust="spacingAndGlyphs">1.36420</text>
<rect x="1597" y="361" width="2" height="1" fill="#000"/>
<text x="1602" y="365" font-size="9.8" fill="#000" stroke="#000" stroke-width="0.12" textLength="33.5" lengthAdjust="spacingAndGlyphs">1.35195</text>
<rect x="1597" y="394" width="2" height="1" fill="#000"/>
<text x="1602" y="398" font-size="9.8" fill="#000" stroke="#000" stroke-width="0.12" textLength="33.5" lengthAdjust="spacingAndGlyphs">1.34005</text>
<rect x="1597" y="427" width="2" height="1" fill="#000"/>
<text x="1602" y="431" font-size="9.8" fill="#000" stroke="#000" stroke-width="0.12" textLength="33.5" lengthAdjust="spacingAndGlyphs">1.32780</text>
<rect x="1597" y="460" width="2" height="1" fill="#000"/>
<text x="1602" y="464" font-size="9.8" fill="#000" stroke="#000" stroke-width="0.12" textLength="33.5" lengthAdjust="spacingAndGlyphs">1.31590</text>
<rect x="1597" y="493" width="2" height="1" fill="#000"/>
<text x="1602" y="497" font-size="9.8" fill="#000" stroke="#000" stroke-width="0.12" textLength="33.5" lengthAdjust="spacingAndGlyphs">1.30365</text>
<rect x="1597" y="526" width="2" height="1" fill="#000"/>
<text x="1602" y="530" font-size="9.8" fill="#000" stroke="#000" stroke-width="0.12" textLength="33.5" lengthAdjust="spacingAndGlyphs">1.29175</text>
<rect x="1598" y="114" width="41" height="11" fill="#ff0000"/>
<text x="1602" y="123" font-size="9.8" fill="#ffffff" stroke="#ffffff" stroke-width="0.12" textLength="33.5" lengthAdjust="spacingAndGlyphs">1.44021</text>
<rect x="1598" y="169" width="41" height="11" fill="#ff0000"/>
<text x="1602" y="178" font-size="9.8" fill="#ffffff" stroke="#ffffff" stroke-width="0.12" textLength="33.5" lengthAdjust="spacingAndGlyphs">1.42010</text>
<rect x="1598" y="224" width="41" height="11" fill="#00ff00"/>
<text x="1602" y="233" font-size="9.8" fill="#ffffff" stroke="#ffffff" stroke-width="0.12" textLength="33.5" lengthAdjust="spacingAndGlyphs">1.40000</text>
<rect x="1598" y="239" width="41" height="11" fill="#000000"/>
<text x="1602" y="248" font-size="9.8" fill="#ffffff" stroke="#ffffff" stroke-width="0.12" textLength="33.5" lengthAdjust="spacingAndGlyphs">1.39474</text>
<rect x="1598" y="278" width="41" height="11" fill="#0000ff"/>
<text x="1602" y="287" font-size="9.8" fill="#ffffff" stroke="#ffffff" stroke-width="0.12" textLength="33.5" lengthAdjust="spacingAndGlyphs">1.38026</text>
<rect x="1598" y="333" width="41" height="11" fill="#0000ff"/>
<text x="1602" y="342" font-size="9.8" fill="#ffffff" stroke="#ffffff" stroke-width="0.12" textLength="33.5" lengthAdjust="spacingAndGlyphs">1.36015</text>
<path d="M1271.5 24 L1281.5 24 L1276.5 29.5 Z" fill="#c0c0c0"/>
<path d="M7 30 L14 30 L10.5 34 Z" fill="#000"/>
<text x="19.5" y="35" font-size="9.8" fill="#000" stroke="#000" stroke-width="0.12" textLength="64.5" lengthAdjust="spacingAndGlyphs">USDCAD,Daily</text>
<text x="91.5" y="35" font-size="9.8" fill="#000" stroke="#000" stroke-width="0.12" textLength="32.3" lengthAdjust="spacingAndGlyphs">1.39925</text>
<text x="127.5" y="35" font-size="9.8" fill="#000" stroke="#000" stroke-width="0.12" textLength="32.3" lengthAdjust="spacingAndGlyphs">1.40023</text>
<text x="163.5" y="35" font-size="9.8" fill="#000" stroke="#000" stroke-width="0.12" textLength="32.3" lengthAdjust="spacingAndGlyphs">1.39472</text>
<text x="199.5" y="35" font-size="9.8" fill="#000" stroke="#000" stroke-width="0.12" textLength="32.3" lengthAdjust="spacingAndGlyphs">1.39474</text>
<line x1="5" y1="559.5" x2="1596" y2="559.5" stroke="#c0c0c0" stroke-width="1" stroke-dasharray="3,3"/>
<line x1="5" y1="595.5" x2="1596" y2="595.5" stroke="#c0c0c0" stroke-width="1" stroke-dasharray="3,3"/>
<g clip-path="url(#cr)"><polyline points="3.0,593.40 4.5,593.40 12.5,575.70 20.5,580.20 28.5,580.20 36.5,580.20 44.5,581.20 52.5,577.50 60.5,574.50 68.5,575.30 76.5,569.90 84.5,567.50 92.5,570.40 100.5,568.70 108.5,566.70 116.5,565.50 124.5,572.00 132.5,570.40 140.5,574.10 148.5,571.40 156.5,563.40 164.5,566.50 172.5,565.50 180.5,565.50 188.5,562.60 196.5,567.30 204.5,568.30 212.5,568.30 220.5,569.40 228.5,570.20 236.5,565.60 244.5,568.30 252.5,581.20 260.5,587.10 268.5,575.70 276.5,576.50 284.5,580.30 292.5,579.60 300.5,582.20 308.5,585.50 316.5,583.60 324.5,585.50 332.5,589.10 340.5,588.30 348.5,593.40 356.5,590.40 364.5,583.60 372.5,583.60 380.5,582.40 388.5,585.20 396.5,583.40 404.5,589.50 412.5,592.20 420.5,594.00 428.5,595.90 436.5,602.20 444.5,599.50 452.5,600.50 460.5,599.50 468.5,598.30 476.5,599.50 484.5,590.40 492.5,586.30 500.5,576.50 508.5,582.40 516.5,581.20 524.5,582.40 532.5,580.30 540.5,582.40 548.5,583.60 556.5,580.60 564.5,579.30 572.5,580.60 580.5,579.30 588.5,570.70 596.5,567.50 604.5,568.30 612.5,568.30 620.5,563.40 628.5,563.40 636.5,560.10 644.5,558.50 652.5,558.50 660.5,557.30 668.5,554.30 676.5,553.40 684.5,552.40 692.5,552.40 700.5,551.40 708.5,553.30 716.5,551.40 724.5,559.20 732.5,568.30 740.5,569.60 748.5,568.30 756.5,570.20 764.5,573.60 772.5,570.30 780.5,573.80 788.5,576.30 796.5,577.30 804.5,581.20 812.5,569.60 820.5,565.90 828.5,564.00 836.5,558.50 844.5,553.30 852.5,557.00 860.5,559.80 868.5,569.60 876.5,563.40 884.5,563.40 892.5,561.60 900.5,561.40 908.5,554.30 916.5,545.40 924.5,549.40 932.5,546.90 940.5,544.50 948.5,550.30 956.5,549.40 964.5,545.50 972.5,542.50 980.5,546.30 988.5,552.40 996.5,551.60 1004.5,550.30 1012.5,553.60 1020.5,561.00 1028.5,574.50 1036.5,573.20 1044.5,578.10 1052.5,571.40 1060.5,573.20 1068.5,570.40 1076.5,574.50 1084.5,573.60 1092.5,572.60 1100.5,574.10 1108.5,579.30 1116.5,578.50 1124.5,579.30 1132.5,580.30 1140.5,580.30 1148.5,580.30 1156.5,582.40 1164.5,573.50 1172.5,572.40 1180.5,577.30 1188.5,577.30 1196.5,575.10 1204.5,570.40 1212.5,573.20 1220.5,578.10 1228.5,575.30 1236.5,575.30 1244.5,578.10 1252.5,580.00 1260.5,582.40" fill="none" stroke="#1e90ff" stroke-width="1"/></g>
<text x="8.2" y="544" font-size="9.8" fill="#000" stroke="#000" stroke-width="0.12" textLength="67.6" lengthAdjust="spacingAndGlyphs">RSI(14) 44.8543</text>
<rect x="1597" y="533" width="1" height="1" fill="#000"/>
<rect x="1597" y="622" width="1" height="1" fill="#000"/>
<rect x="1596" y="559" width="1" height="1" fill="#ffffff"/>
<rect x="1595" y="559" width="1" height="1" fill="#c0c0c0"/>
<rect x="1596" y="595" width="1" height="1" fill="#ffffff"/>
<rect x="1595" y="595" width="1" height="1" fill="#c0c0c0"/>
<text x="1599" y="542" font-size="9.8" fill="#000" stroke="#000" stroke-width="0.12">100</text>
<text x="1599" y="563" font-size="9.8" fill="#000" stroke="#000" stroke-width="0.12">70</text>
<text x="1599" y="599" font-size="9.8" fill="#000" stroke="#000" stroke-width="0.12">30</text>
<text x="1599" y="620" font-size="9.8" fill="#000" stroke="#000" stroke-width="0.12">0</text>
<g clip-path="url(#cmacd)">
<rect x="4" y="699" width="1" height="10" fill="#c0c0c0"/>
<rect x="12" y="699" width="1" height="8" fill="#c0c0c0"/>
<rect x="20" y="699" width="1" height="7" fill="#c0c0c0"/>
<rect x="28" y="699" width="1" height="6" fill="#c0c0c0"/>
<rect x="36" y="699" width="1" height="6" fill="#c0c0c0"/>
<rect x="44" y="699" width="1" height="5" fill="#c0c0c0"/>
<rect x="52" y="699" width="1" height="4" fill="#c0c0c0"/>
<rect x="60" y="699" width="1" height="3" fill="#c0c0c0"/>
<rect x="68" y="699" width="1" height="3" fill="#c0c0c0"/>
<rect x="76" y="699" width="1" height="1" fill="#c0c0c0"/>
<rect x="92" y="698" width="1" height="2" fill="#c0c0c0"/>
<rect x="100" y="697" width="1" height="3" fill="#c0c0c0"/>
<rect x="108" y="696" width="1" height="4" fill="#c0c0c0"/>
<rect x="116" y="695" width="1" height="5" fill="#c0c0c0"/>
<rect x="124" y="695" width="1" height="5" fill="#c0c0c0"/>
<rect x="132" y="695" width="1" height="5" fill="#c0c0c0"/>
<rect x="140" y="695" width="1" height="5" fill="#c0c0c0"/>
<rect x="148" y="695" width="1" height="5" fill="#c0c0c0"/>
<rect x="156" y="694" width="1" height="6" fill="#c0c0c0"/>
<rect x="164" y="694" width="1" height="6" fill="#c0c0c0"/>
<rect x="172" y="693" width="1" height="7" fill="#c0c0c0"/>
<rect x="180" y="693" width="1" height="7" fill="#c0c0c0"/>
<rect x="188" y="692" width="1" height="8" fill="#c0c0c0"/>
<rect x="196" y="692" width="1" height="8" fill="#c0c0c0"/>
<rect x="204" y="692" width="1" height="8" fill="#c0c0c0"/>
<rect x="212" y="692" width="1" height="8" fill="#c0c0c0"/>
<rect x="220" y="693" width="1" height="7" fill="#c0c0c0"/>
<rect x="228" y="693" width="1" height="7" fill="#c0c0c0"/>
<rect x="236" y="693" width="1" height="7" fill="#c0c0c0"/>
<rect x="244" y="693" width="1" height="7" fill="#c0c0c0"/>
<rect x="252" y="694" width="1" height="6" fill="#c0c0c0"/>
<rect x="260" y="696" width="1" height="4" fill="#c0c0c0"/>
<rect x="268" y="696" width="1" height="4" fill="#c0c0c0"/>
<rect x="276" y="697" width="1" height="3" fill="#c0c0c0"/>
<rect x="284" y="697" width="1" height="3" fill="#c0c0c0"/>
<rect x="292" y="698" width="1" height="2" fill="#c0c0c0"/>
<rect x="308" y="699" width="1" height="1" fill="#c0c0c0"/>
<rect x="316" y="699" width="1" height="1" fill="#c0c0c0"/>
<rect x="324" y="699" width="1" height="2" fill="#c0c0c0"/>
<rect x="332" y="699" width="1" height="3" fill="#c0c0c0"/>
<rect x="340" y="699" width="1" height="4" fill="#c0c0c0"/>
<rect x="348" y="699" width="1" height="5" fill="#c0c0c0"/>
<rect x="356" y="699" width="1" height="6" fill="#c0c0c0"/>
<rect x="364" y="699" width="1" height="6" fill="#c0c0c0"/>
<rect x="372" y="699" width="1" height="5" fill="#c0c0c0"/>
<rect x="380" y="699" width="1" height="5" fill="#c0c0c0"/>
<rect x="388" y="699" width="1" height="5" fill="#c0c0c0"/>
<rect x="396" y="699" width="1" height="5" fill="#c0c0c0"/>
<rect x="404" y="699" width="1" height="6" fill="#c0c0c0"/>
<rect x="412" y="699" width="1" height="6" fill="#c0c0c0"/>
<rect x="420" y="699" width="1" height="7" fill="#c0c0c0"/>
<rect x="428" y="699" width="1" height="8" fill="#c0c0c0"/>
<rect x="436" y="699" width="1" height="11" fill="#c0c0c0"/>
<rect x="444" y="699" width="1" height="12" fill="#c0c0c0"/>
<rect x="452" y="699" width="1" height="13" fill="#c0c0c0"/>
<rect x="460" y="699" width="1" height="13" fill="#c0c0c0"/>
<rect x="468" y="699" width="1" height="14" fill="#c0c0c0"/>
<rect x="476" y="699" width="1" height="14" fill="#c0c0c0"/>
<rect x="484" y="699" width="1" height="13" fill="#c0c0c0"/>
<rect x="492" y="699" width="1" height="12" fill="#c0c0c0"/>
<rect x="500" y="699" width="1" height="10" fill="#c0c0c0"/>
<rect x="508" y="699" width="1" height="9" fill="#c0c0c0"/>
<rect x="516" y="699" width="1" height="8" fill="#c0c0c0"/>
<rect x="524" y="699" width="1" height="7" fill="#c0c0c0"/>
<rect x="532" y="699" width="1" height="7" fill="#c0c0c0"/>
<rect x="540" y="699" width="1" height="6" fill="#c0c0c0"/>
<rect x="548" y="699" width="1" height="6" fill="#c0c0c0"/>
<rect x="556" y="699" width="1" height="5" fill="#c0c0c0"/>
<rect x="564" y="699" width="1" height="4" fill="#c0c0c0"/>
<rect x="572" y="699" width="1" height="4" fill="#c0c0c0"/>
<rect x="580" y="699" width="1" height="4" fill="#c0c0c0"/>
<rect x="588" y="699" width="1" height="2" fill="#c0c0c0"/>
<rect x="596" y="699" width="1" height="1" fill="#c0c0c0"/>
<rect x="604" y="698" width="1" height="2" fill="#c0c0c0"/>
<rect x="612" y="697" width="1" height="3" fill="#c0c0c0"/>
<rect x="620" y="696" width="1" height="4" fill="#c0c0c0"/>
<rect x="628" y="695" width="1" height="5" fill="#c0c0c0"/>
<rect x="636" y="694" width="1" height="6" fill="#c0c0c0"/>
<rect x="644" y="693" width="1" height="7" fill="#c0c0c0"/>
<rect x="652" y="692" width="1" height="8" fill="#c0c0c0"/>
<rect x="660" y="691" width="1" height="9" fill="#c0c0c0"/>
<rect x="668" y="690" width="1" height="10" fill="#c0c0c0"/>
<rect x="676" y="689" width="1" height="11" fill="#c0c0c0"/>
<rect x="684" y="688" width="1" height="12" fill="#c0c0c0"/>
<rect x="692" y="687" width="1" height="13" fill="#c0c0c0"/>
<rect x="700" y="687" width="1" height="13" fill="#c0c0c0"/>
<rect x="708" y="687" width="1" height="13" fill="#c0c0c0"/>
<rect x="716" y="686" width="1" height="14" fill="#c0c0c0"/>
<rect x="724" y="687" width="1" height="13" fill="#c0c0c0"/>
<rect x="732" y="688" width="1" height="12" fill="#c0c0c0"/>
<rect x="740" y="689" width="1" height="11" fill="#c0c0c0"/>
<rect x="748" y="689" width="1" height="11" fill="#c0c0c0"/>
<rect x="756" y="690" width="1" height="10" fill="#c0c0c0"/>
<rect x="764" y="691" width="1" height="9" fill="#c0c0c0"/>
<rect x="772" y="692" width="1" height="8" fill="#c0c0c0"/>
<rect x="780" y="693" width="1" height="7" fill="#c0c0c0"/>
<rect x="788" y="694" width="1" height="6" fill="#c0c0c0"/>
<rect x="796" y="695" width="1" height="5" fill="#c0c0c0"/>
<rect x="804" y="696" width="1" height="4" fill="#c0c0c0"/>
<rect x="812" y="695" width="1" height="5" fill="#c0c0c0"/>
<rect x="820" y="695" width="1" height="5" fill="#c0c0c0"/>
<rect x="828" y="694" width="1" height="6" fill="#c0c0c0"/>
<rect x="836" y="693" width="1" height="7" fill="#c0c0c0"/>
<rect x="844" y="691" width="1" height="9" fill="#c0c0c0"/>
<rect x="852" y="689" width="1" height="11" fill="#c0c0c0"/>
<rect x="860" y="689" width="1" height="11" fill="#c0c0c0"/>
<rect x="868" y="689" width="1" height="11" fill="#c0c0c0"/>
<rect x="876" y="689" width="1" height="11" fill="#c0c0c0"/>
<rect x="884" y="688" width="1" height="12" fill="#c0c0c0"/>
<rect x="892" y="688" width="1" height="12" fill="#c0c0c0"/>
<rect x="900" y="687" width="1" height="13" fill="#c0c0c0"/>
<rect x="908" y="686" width="1" height="14" fill="#c0c0c0"/>
<rect x="916" y="680" width="1" height="20" fill="#c0c0c0"/>
<rect x="924" y="676" width="1" height="24" fill="#c0c0c0"/>
<rect x="932" y="671" width="1" height="29" fill="#c0c0c0"/>
<rect x="940" y="665" width="1" height="35" fill="#c0c0c0"/>
<rect x="948" y="662" width="1" height="38" fill="#c0c0c0"/>
<rect x="956" y="660" width="1" height="40" fill="#c0c0c0"/>
<rect x="964" y="654" width="1" height="46" fill="#c0c0c0"/>
<rect x="972" y="644" width="1" height="56" fill="#c0c0c0"/>
<rect x="980" y="638" width="1" height="62" fill="#c0c0c0"/>
<rect x="988" y="636" width="1" height="64" fill="#c0c0c0"/>
<rect x="996" y="634" width="1" height="66" fill="#c0c0c0"/>
<rect x="1004" y="631" width="1" height="69" fill="#c0c0c0"/>
<rect x="1012" y="631" width="1" height="69" fill="#c0c0c0"/>
<rect x="1020" y="634" width="1" height="66" fill="#c0c0c0"/>
<rect x="1028" y="642" width="1" height="58" fill="#c0c0c0"/>
<rect x="1036" y="649" width="1" height="51" fill="#c0c0c0"/>
<rect x="1044" y="657" width="1" height="43" fill="#c0c0c0"/>
<rect x="1052" y="660" width="1" height="40" fill="#c0c0c0"/>
<rect x="1060" y="663" width="1" height="37" fill="#c0c0c0"/>
<rect x="1068" y="664" width="1" height="36" fill="#c0c0c0"/>
<rect x="1076" y="668" width="1" height="32" fill="#c0c0c0"/>
<rect x="1084" y="670" width="1" height="30" fill="#c0c0c0"/>
<rect x="1092" y="672" width="1" height="28" fill="#c0c0c0"/>
<rect x="1100" y="675" width="1" height="25" fill="#c0c0c0"/>
<rect x="1108" y="680" width="1" height="20" fill="#c0c0c0"/>
<rect x="1116" y="683" width="1" height="17" fill="#c0c0c0"/>
<rect x="1124" y="686" width="1" height="14" fill="#c0c0c0"/>
<rect x="1132" y="689" width="1" height="11" fill="#c0c0c0"/>
<rect x="1140" y="692" width="1" height="8" fill="#c0c0c0"/>
<rect x="1148" y="694" width="1" height="6" fill="#c0c0c0"/>
<rect x="1156" y="697" width="1" height="3" fill="#c0c0c0"/>
<rect x="1164" y="696" width="1" height="4" fill="#c0c0c0"/>
<rect x="1172" y="694" width="1" height="6" fill="#c0c0c0"/>
<rect x="1180" y="694" width="1" height="6" fill="#c0c0c0"/>
<rect x="1188" y="695" width="1" height="5" fill="#c0c0c0"/>
<rect x="1196" y="695" width="1" height="5" fill="#c0c0c0"/>
<rect x="1204" y="692" width="1" height="8" fill="#c0c0c0"/>
<rect x="1212" y="692" width="1" height="8" fill="#c0c0c0"/>
<rect x="1220" y="693" width="1" height="7" fill="#c0c0c0"/>
<rect x="1228" y="693" width="1" height="7" fill="#c0c0c0"/>
<rect x="1236" y="693" width="1" height="7" fill="#c0c0c0"/>
<rect x="1244" y="694" width="1" height="6" fill="#c0c0c0"/>
<rect x="1252" y="696" width="1" height="4" fill="#c0c0c0"/>
<rect x="1260" y="698" width="1" height="2" fill="#c0c0c0"/>
<polyline points="3.0,709.40 4.5,709.40 12.5,709.40 20.5,709.30 28.5,709.20 36.5,709.00 44.5,708.70 52.5,707.80 60.5,706.10 68.5,705.40 76.5,703.87 84.5,702.98 92.5,702.09 100.5,701.19 108.5,700.27 116.5,699.31 124.5,698.44 132.5,697.64 140.5,696.96 148.5,696.42 156.5,695.90 164.5,695.40 172.5,694.93 180.5,694.52 188.5,694.13 196.5,693.74 204.5,693.40 212.5,693.05 220.5,692.75 228.5,692.61 236.5,692.53 244.5,692.52 252.5,692.72 260.5,693.20 268.5,693.70 276.5,694.20 284.5,694.76 292.5,695.34 300.5,695.96 308.5,696.71 316.5,697.50 324.5,698.24 332.5,698.89 340.5,699.62 348.5,700.46 356.5,701.30 364.5,702.05 372.5,702.70 380.5,703.20 388.5,703.63 396.5,703.95 404.5,704.21 412.5,704.49 420.5,704.73 428.5,705.00 436.5,705.53 444.5,706.24 452.5,707.10 460.5,708.02 468.5,708.98 476.5,709.91 484.5,710.65 492.5,711.17 500.5,711.34 508.5,711.18 516.5,710.77 524.5,710.16 532.5,709.40 540.5,708.56 548.5,707.66 556.5,706.77 564.5,705.93 572.5,705.29 580.5,704.68 588.5,704.02 596.5,703.25 604.5,702.46 612.5,701.61 620.5,700.65 628.5,699.64 636.5,698.57 644.5,697.39 652.5,696.17 660.5,695.03 668.5,693.94 676.5,692.87 684.5,691.80 692.5,690.81 700.5,689.87 708.5,689.07 716.5,688.37 724.5,687.81 732.5,687.45 740.5,687.32 748.5,687.40 756.5,687.67 764.5,688.13 772.5,688.73 780.5,689.42 788.5,690.25 796.5,691.14 804.5,692.02 812.5,692.78 820.5,693.38 828.5,693.82 836.5,693.99 844.5,693.84 852.5,693.46 860.5,692.91 868.5,692.33 876.5,691.57 884.5,690.80 892.5,690.01 900.5,689.26 908.5,688.44 916.5,687.22 924.5,685.72 932.5,683.74 940.5,681.06 948.5,678.13 956.5,674.94 964.5,671.20 972.5,666.40 980.5,661.16 988.5,656.33 996.5,651.68 1004.5,647.26 1012.5,643.44 1020.5,640.27 1028.5,638.32 1036.5,637.72 1044.5,639.11 1052.5,641.46 1060.5,644.43 1068.5,647.79 1076.5,651.87 1084.5,656.26 1092.5,660.53 1100.5,664.15 1108.5,667.59 1116.5,670.49 1124.5,673.47 1132.5,676.40 1140.5,679.48 1148.5,682.43 1156.5,685.39 1164.5,687.97 1172.5,690.09 1180.5,691.74 1188.5,693.10 1196.5,694.06 1204.5,694.41 1212.5,694.38 1220.5,694.26 1228.5,693.82 1236.5,693.54 1244.5,693.59 1252.5,693.76 1260.5,694.10" fill="none" stroke="#ff0000" stroke-width="1" stroke-dasharray="3,3"/>
</g>
<text x="8.4" y="638" font-size="9.8" fill="#000" stroke="#000" stroke-width="0.12" textLength="147.3" lengthAdjust="spacingAndGlyphs">MACD(12,26,9) 0.000349 0.002189</text>
<rect x="1597" y="626" width="1" height="1" fill="#000"/>
<rect x="1597" y="699" width="1" height="1" fill="#000"/>
<rect x="1597" y="716" width="1" height="1" fill="#000"/>
<text x="1600" y="636" font-size="9.8" fill="#000" stroke="#000" stroke-width="0.12">0.032493</text>
<text x="1600" y="703" font-size="9.8" fill="#000" stroke="#000" stroke-width="0.12">0.00</text>
<text x="1600" y="714" font-size="9.8" fill="#000" stroke="#000" stroke-width="0.12">-0.008086</text>
<rect x="4" y="718" width="1" height="3" fill="#000"/>
<text transform="translate(3,730) scale(0.97,1)" font-size="9.8" fill="#000">29 Oct 2019</text>
<rect x="68" y="718" width="1" height="3" fill="#000"/>
<text transform="translate(67,730) scale(0.97,1)" font-size="9.8" fill="#000">7 Nov 2019</text>
<rect x="132" y="718" width="1" height="3" fill="#000"/>
<text transform="translate(131,730) scale(0.97,1)" font-size="9.8" fill="#000">16 Nov 2019</text>
<rect x="196" y="718" width="1" height="3" fill="#000"/>
<text transform="translate(195,730) scale(0.97,1)" font-size="9.8" fill="#000">26 Nov 2019</text>
<rect x="260" y="718" width="1" height="3" fill="#000"/>
<text transform="translate(259,730) scale(0.97,1)" font-size="9.8" fill="#000">5 Dec 2019</text>
<rect x="324" y="718" width="1" height="3" fill="#000"/>
<text transform="translate(323,730) scale(0.97,1)" font-size="9.8" fill="#000">14 Dec 2019</text>
<rect x="388" y="718" width="1" height="3" fill="#000"/>
<text transform="translate(387,730) scale(0.97,1)" font-size="9.8" fill="#000">24 Dec 2019</text>
<rect x="452" y="718" width="1" height="3" fill="#000"/>
<text transform="translate(451,730) scale(0.97,1)" font-size="9.8" fill="#000">2 Jan 2020</text>
<rect x="516" y="718" width="1" height="3" fill="#000"/>
<text transform="translate(515,730) scale(0.97,1)" font-size="9.8" fill="#000">11 Jan 2020</text>
<rect x="580" y="718" width="1" height="3" fill="#000"/>
<text transform="translate(579,730) scale(0.97,1)" font-size="9.8" fill="#000">21 Jan 2020</text>
<rect x="644" y="718" width="1" height="3" fill="#000"/>
<text transform="translate(643,730) scale(0.97,1)" font-size="9.8" fill="#000">30 Jan 2020</text>
<rect x="708" y="718" width="1" height="3" fill="#000"/>
<text transform="translate(707,730) scale(0.97,1)" font-size="9.8" fill="#000">8 Feb 2020</text>
<rect x="772" y="718" width="1" height="3" fill="#000"/>
<text transform="translate(771,730) scale(0.97,1)" font-size="9.8" fill="#000">18 Feb 2020</text>
<rect x="836" y="718" width="1" height="3" fill="#000"/>
<text transform="translate(835,730) scale(0.97,1)" font-size="9.8" fill="#000">27 Feb 2020</text>
<rect x="900" y="718" width="1" height="3" fill="#000"/>
<text transform="translate(899,730) scale(0.97,1)" font-size="9.8" fill="#000">7 Mar 2020</text>
<rect x="964" y="718" width="1" height="3" fill="#000"/>
<text transform="translate(963,730) scale(0.97,1)" font-size="9.8" fill="#000">17 Mar 2020</text>
<rect x="1028" y="718" width="1" height="3" fill="#000"/>
<text transform="translate(1027,730) scale(0.97,1)" font-size="9.8" fill="#000">26 Mar 2020</text>
<rect x="1092" y="718" width="1" height="3" fill="#000"/>
<text transform="translate(1091,730) scale(0.97,1)" font-size="9.8" fill="#000">4 Apr 2020</text>
<rect x="1156" y="718" width="1" height="3" fill="#000"/>
<text transform="translate(1155,730) scale(0.97,1)" font-size="9.8" fill="#000">14 Apr 2020</text>
<rect x="1220" y="718" width="1" height="3" fill="#000"/>
<text transform="translate(1219,730) scale(0.97,1)" font-size="9.8" fill="#000">23 Apr 2020</text>
<rect x="0" y="738" width="1640" height="1" fill="#e3e3e3"/>
<rect x="0" y="739" width="1640" height="1" fill="#ffffff"/>
<rect x="0" y="740" width="1640" height="1" fill="#000000"/>
<rect x="0" y="741" width="1640" height="19" fill="#f0f0f0"/>
<rect x="1" y="741" width="1639" height="1" fill="#ffffff"/>
<rect x="0" y="741" width="1" height="18" fill="#5a5a5a"/>
<rect x="313" y="740" width="104" height="19" fill="#000"/>
<rect x="314" y="741" width="102" height="17" fill="#ffffff"/>
<text transform="translate(17.4,755) scale(0.96,1)" font-size="12.5" fill="#555555">EURUSD,Daily</text>
<text transform="translate(119.3,755) scale(0.96,1)" font-size="12.5" fill="#555555">USDCHF,Daily</text>
<text transform="translate(220.2,755) scale(0.96,1)" font-size="12.5" fill="#555555">AUDUSD,Daily</text>
<text transform="translate(427.4,755) scale(0.96,1)" font-size="12.5" fill="#555555">USDCNH,Daily</text>
<text transform="translate(533.2,755) scale(0.96,1)" font-size="12.5" fill="#555555">EURUSD,Daily</text>
<text transform="translate(637.6,755) scale(0.96,1)" font-size="12.5" fill="#555555">GBPUSD,H4</text>
<text transform="translate(728.3,755) scale(0.96,1)" font-size="12.5" fill="#555555">XAUUSD,H4</text>
<text transform="translate(820.5,755) scale(0.96,1)" font-size="12.5" fill="#555555">HK50,H1</text>
<text transform="translate(892.2,755) scale(0.96,1)" font-size="12.5" fill="#555555">UK100,H1</text>
<text transform="translate(972.1,755) scale(0.96,1)" font-size="12.5" fill="#555555">UK100,H1</text>
<text transform="translate(1052.2,755) scale(0.96,1)" font-size="12.5" fill="#555555">GER30,H1</text>
<text transform="translate(1131.6,755) scale(0.96,1)" font-size="12.5" fill="#555555">FRA40,H1</text>
<text transform="translate(1207.2,755) scale(0.96,1)" font-size="12.5" fill="#555555">USOil,H1</text>
<text transform="translate(1279.6,755) scale(0.96,1)" font-size="12.5" fill="#555555">USDJPY,H1</text>
<text transform="translate(324.5,755) scale(0.96,1)" font-size="12.5" fill="#000">USDCAD,Daily</text>
<rect x="109" y="743" width="1" height="14" fill="#555555"/>
<rect x="209" y="743" width="1" height="14" fill="#555555"/>
<rect x="521" y="743" width="1" height="14" fill="#555555"/>
<rect x="625" y="743" width="1" height="14" fill="#555555"/>
<rect x="717" y="743" width="1" height="14" fill="#555555"/>
<rect x="809" y="743" width="1" height="14" fill="#555555"/>
<rect x="881" y="743" width="1" height="14" fill="#555555"/>
<rect x="961" y="743" width="1" height="14" fill="#555555"/>
<rect x="1041" y="743" width="1" height="14" fill="#555555"/>
<rect x="1121" y="743" width="1" height="14" fill="#555555"/>
<rect x="1197" y="743" width="1" height="14" fill="#555555"/>
<rect x="1269" y="743" width="1" height="14" fill="#555555"/>
<rect x="1353" y="743" width="1" height="14" fill="#555555"/>
<rect x="1614" y="746" width="1" height="7" fill="#8c8c8c"/>
<rect x="1631" y="746" width="1" height="7" fill="#8c8c8c"/>
<rect x="1613" y="747" width="1" height="5" fill="#8c8c8c"/>
<rect x="1632" y="747" width="1" height="5" fill="#8c8c8c"/>
<rect x="1612" y="748" width="1" height="3" fill="#8c8c8c"/>
<rect x="1633" y="748" width="1" height="3" fill="#8c8c8c"/></svg>
</body></html>
